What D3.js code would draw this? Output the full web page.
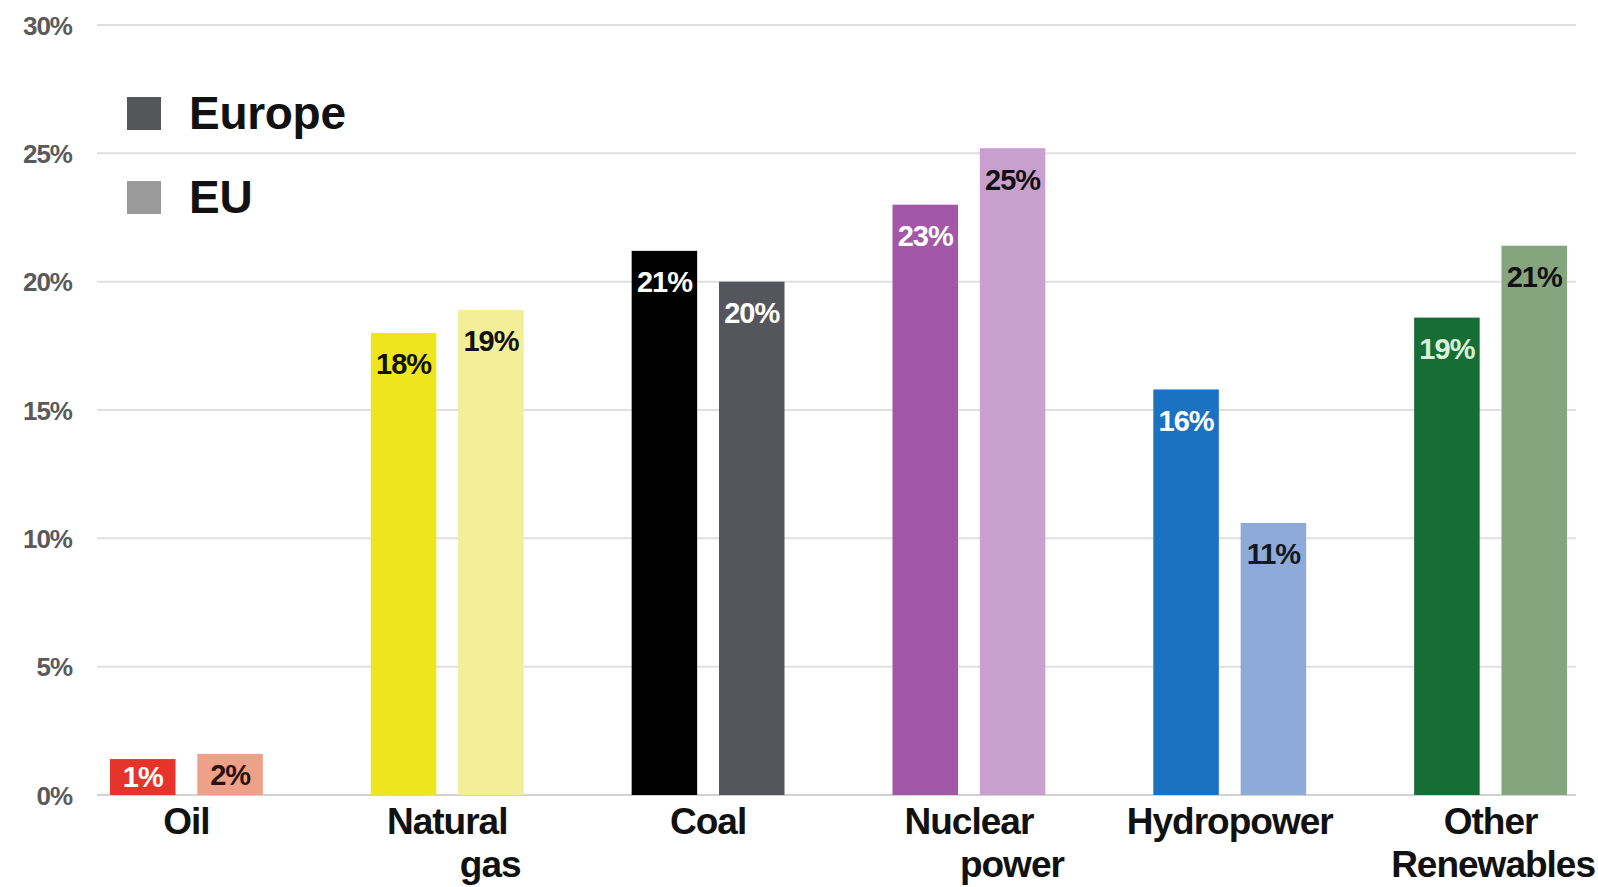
<!DOCTYPE html>
<html>
<head>
<meta charset="utf-8">
<script src="https://cdn.jsdelivr.net/npm/d3@7"></script>
<style>
  html, body { margin: 0; padding: 0; background: #fff; }
  svg { display: block; }
  text { font-family: "Liberation Sans", Arial, Helvetica, sans-serif; }
</style>
</head>
<body>
<svg id="chart" width="1598" height="887"></svg>
<script>
// Share of electricity generation by source
const categories = ["Oil", "Natural gas", "Coal", "Nuclear power", "Hydropower", "Other Renewables"];
const categoryLines = [["Oil"], ["Natural", "gas"], ["Coal"], ["Nuclear", "power"], ["Hydropower"], ["Other", "Renewables"]];
const seriesNames = ["Europe", "EU"];
const europeValues = [1.4, 18.0, 21.2, 23.0, 15.8, 18.6];
const euValues = [1.6, 18.9, 20.0, 25.2, 10.6, 21.4];
const yTicks = [0, 5, 10, 15, 20, 25, 30];

// Per-category colours: [Europe, EU]
const barColors = [
  ["#e6342a", "#eda189"],
  ["#efe51f", "#f3ef98"],
  ["#000000", "#55565d"],
  ["#a258a7", "#c8a0cd"],
  ["#1b72c1", "#8eaadb"],
  ["#166d36", "#85a57f"]
];
const labelColors = [
  ["#ffffff", "#2a1212"],
  ["#111111", "#111111"],
  ["#ffffff", "#ffffff"],
  ["#ffffff", "#111111"],
  ["#ffffff", "#111a22"],
  ["#d8f2d8", "#111111"]
];
const legendColors = ["#55565a", "#9b9b9b"];

const W = 1598, H = 887;
const svg = d3.select("#chart");

const y = d3.scaleLinear().domain([0, 30]).range([795, 25]);
const x = d3.scaleBand().domain(categories).range([110, 1567]).paddingInner(0.414).paddingOuter(0);
const xs = d3.scaleBand().domain(seriesNames).range([0, x.bandwidth()]).paddingInner(0.25);

// Gridlines
svg.append("g")
  .selectAll("line")
  .data(yTicks)
  .join("line")
  .attr("x1", 97).attr("x2", 1576)
  .attr("y1", d => y(d)).attr("y2", d => y(d))
  .attr("stroke", d => d === 0 ? "#d2d2d2" : "#e0e0e0")
  .attr("stroke-width", 2);

// Y axis labels
const yAxis = d3.axisLeft(y).tickValues(yTicks).tickFormat(d => d + "%").tickSize(0).tickPadding(0);
const yg = svg.append("g").attr("transform", "translate(72,0)").call(yAxis);
yg.select(".domain").remove();
yg.selectAll("text")
  .attr("fill", "#5a5a5a")
  .attr("font-size", 26)
  .attr("font-weight", "bold")
  .attr("letter-spacing", -1)
  .attr("dy", "0.35em");

// Bars
const rows = categories.map((c, i) => ({
  cat: c, i,
  vals: [europeValues[i], euValues[i]]
}));

const groups = svg.append("g").selectAll("g")
  .data(rows)
  .join("g")
  .attr("transform", d => `translate(${x(d.cat)},0)`);

groups.selectAll("rect")
  .data(d => seriesNames.map((s, k) => ({ s, k, v: d.vals[k], i: d.i })))
  .join("rect")
  .attr("x", d => xs(d.s))
  .attr("width", xs.bandwidth())
  .attr("y", d => y(d.v))
  .attr("height", d => y(0) - y(d.v))
  .attr("fill", d => barColors[d.i][d.k]);

groups.selectAll("text.val")
  .data(d => seriesNames.map((s, k) => ({ s, k, v: d.vals[k], i: d.i })))
  .join("text")
  .attr("class", "val")
  .attr("x", d => xs(d.s) + xs.bandwidth() / 2)
  .attr("y", d => Math.min(y(d.v) + 31, (y(d.v) + y(0)) / 2))
  .attr("dy", "0.36em")
  .attr("text-anchor", "middle")
  .attr("font-size", 29)
  .attr("font-weight", "bold")
  .attr("letter-spacing", -1)
  .attr("fill", d => labelColors[d.i][d.k])
  .text(d => Math.round(d.v) + "%");

// Category labels (second lines sit offset to the right)
const catG = svg.append("g");
rows.forEach(d => {
  const cx = x(d.cat) + x.bandwidth() / 2;
  categoryLines[d.i].forEach((line, li) => {
    const t = catG.append("text")
      .attr("y", 821 + li * 43)
      .attr("dy", "0.36em")
      .attr("text-anchor", "middle")
      .attr("font-size", 37)
      .attr("font-weight", "bold")
      .attr("letter-spacing", -1)
      .attr("fill", "#111")
      .text(line);
    let tx = cx + (li > 0 ? 43 : 0);
    const half = t.node().getComputedTextLength() / 2;
    if (tx + half > W - 3) tx = W - 3 - half;
    t.attr("x", tx);
  });
});

// Legend
const legend = svg.append("g").selectAll("g")
  .data(seriesNames)
  .join("g")
  .attr("transform", (d, k) => `translate(127,${97 + k * 84})`);
legend.append("rect")
  .attr("width", 34).attr("height", 33)
  .attr("fill", (d, k) => legendColors[k]);
legend.append("text")
  .attr("x", 62).attr("y", 32)
  .attr("font-size", 46)
  .attr("font-weight", "bold")
  .attr("letter-spacing", -0.3)
  .attr("fill", "#111")
  .text(d => d);
</script>
</body>
</html>
